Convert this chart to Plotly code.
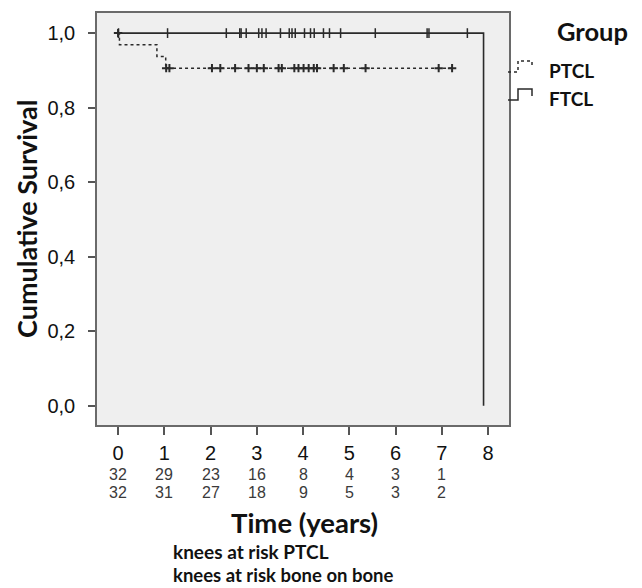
import plotly.graph_objects as go

# ---------------- data ----------------
# PTCL group: step curve (time in years, cumulative survival)
ptcl_step_times = [0.0, 0.03, 0.84, 1.03, 7.22]
ptcl_step_surv = [1.0, 0.969, 0.9375, 0.906, 0.906]
ptcl_censor_times = [0.0, 1.04, 1.11, 2.03, 2.21, 2.53, 2.82, 3.00, 3.15, 3.47, 3.54,
                     3.81, 3.90, 4.01, 4.12, 4.23, 4.30, 4.66, 4.88, 5.35, 6.93, 7.22]
ptcl_censor_surv = [1.0] + [0.906] * 21

# FTCL group
ftcl_step_times = [0.0, 7.9]
ftcl_step_surv = [1.0, 0.0]
ftcl_censor_times = [0.01, 1.07, 2.34, 2.63, 2.66, 2.77, 3.04, 3.11, 3.20, 3.51, 3.70,
                     3.76, 3.83, 4.03, 4.16, 4.24, 4.44, 4.57, 4.81, 5.56, 6.68, 6.72, 7.55]
ftcl_censor_surv = [1.0] * 23

x_ticks = [0, 1, 2, 3, 4, 5, 6, 7, 8]
y_ticks = [0.0, 0.2, 0.4, 0.6, 0.8, 1.0]
y_tick_labels = ["0,0", "0,2", "0,4", "0,6", "0,8", "1,0"]

risk_times = [0, 1, 2, 3, 4, 5, 6, 7]
risk_ptcl = [32, 29, 23, 16, 8, 4, 3, 1]
risk_bone = [32, 31, 27, 18, 9, 5, 3, 2]

group_names = ["PTCL", "FTCL"]

# ---------------- figure ----------------
LINE = "#2a2a2a"
TITLE_FONT = "Lato, 'Open Sans', sans-serif"
NUM_FONT = "'Liberation Sans', Arial, sans-serif"

W, H = 642, 588
L, R, T, B = 97, 133, 13, 163
pw, ph = W - L - R, H - T - B


def px(x):
    return (x - L) / pw


def py(y):
    return (H - B - y) / ph


fig = go.Figure()

fig.add_trace(go.Scatter(x=ptcl_step_times, y=ptcl_step_surv, mode="lines",
                         line=dict(color=LINE, width=1.5, dash="dot", shape="hv"),
                         showlegend=False, hoverinfo="skip"))
fig.add_trace(go.Scatter(x=ftcl_step_times, y=ftcl_step_surv, mode="lines",
                         line=dict(color=LINE, width=1.6, shape="hv"),
                         showlegend=False, hoverinfo="skip"))
fig.add_trace(go.Scatter(x=ptcl_censor_times, y=ptcl_censor_surv, mode="markers",
                         marker=dict(symbol="cross-thin", size=6, color=LINE,
                                     line=dict(color=LINE, width=2)),
                         showlegend=False, hoverinfo="skip"))
fig.add_trace(go.Scatter(x=ftcl_censor_times, y=ftcl_censor_surv, mode="markers",
                         marker=dict(symbol="line-ns", size=7, color=LINE,
                                     line=dict(color=LINE, width=1.5)),
                         showlegend=False, hoverinfo="skip"))

# at-risk numbers
for t, a, b in zip(risk_times, risk_ptcl, risk_bone):
    fig.add_annotation(x=t, y=py(474), xref="x", yref="paper", text=str(a), showarrow=False,
                       xanchor="center", yanchor="middle",
                       font=dict(family=NUM_FONT, size=16, color="#3a3a3a"))
    fig.add_annotation(x=t, y=py(492), xref="x", yref="paper", text=str(b), showarrow=False,
                       xanchor="center", yanchor="middle",
                       font=dict(family=NUM_FONT, size=16, color="#3a3a3a"))

annotations = [
    dict(x=px(304), y=py(522), text="<b>Time (years)</b>", size=27.5),
    dict(x=px(26), y=py(219), text="<b>Cumulative Survival</b>", size=27, angle=-90),
    dict(x=px(592), y=py(31), text="<b>Group</b>", size=25.5),
]
for a in annotations:
    fig.add_annotation(x=a["x"], y=a["y"], xref="paper", yref="paper", text=a["text"],
                       showarrow=False, textangle=a.get("angle", 0),
                       xanchor="center", yanchor="middle",
                       font=dict(family=TITLE_FONT, size=a["size"], color="#111"))

fig.add_annotation(x=px(171), y=py(551), xref="paper", yref="paper",
                   text="<b>knees at risk PTCL</b>", showarrow=False,
                   xanchor="left", yanchor="middle",
                   font=dict(family=TITLE_FONT, size=19, color="#111"))
fig.add_annotation(x=px(171), y=py(575), xref="paper", yref="paper",
                   text="<b>knees at risk bone on bone</b>", showarrow=False,
                   xanchor="left", yanchor="middle",
                   font=dict(family=TITLE_FONT, size=18.5, color="#111"))

for name, ypix in zip(group_names, [70, 98]):
    fig.add_annotation(x=px(547), y=py(ypix), xref="paper", yref="paper",
                       text=f"<b>{name}</b>", showarrow=False,
                       xanchor="left", yanchor="middle",
                       font=dict(family=TITLE_FONT, size=19, color="#111"))


# legend step glyphs
def step_path(y0):
    return (f"M {px(508)} {py(y0)} L {px(518)} {py(y0)} L {px(518)} {py(y0-11)} "
            f"L {px(532)} {py(y0-11)} L {px(532)} {py(y0-4)}")


fig.add_shape(type="path", xref="paper", yref="paper", path=step_path(72),
              line=dict(color=LINE, width=1.5, dash="dot"))
fig.add_shape(type="path", xref="paper", yref="paper", path=step_path(100),
              line=dict(color=LINE, width=1.5))

fig.update_layout(
    width=W, height=H,
    margin=dict(l=L, r=R, t=T, b=B, pad=0),
    paper_bgcolor="white", plot_bgcolor="#efefef",
    showlegend=False,
    xaxis=dict(range=[-0.455, 8.45], tickvals=x_ticks, ticktext=[str(v) for v in x_ticks],
               ticks="outside", ticklen=8, tickcolor="#555", tickwidth=1.5,
               showgrid=False, zeroline=False, showline=True, mirror=True,
               linecolor="#6a6a6a", linewidth=1.6, ticklabelstandoff=1,
               tickfont=dict(family=NUM_FONT, size=20, color="#111")),
    yaxis=dict(range=[-0.052, 1.054], tickvals=y_ticks, ticktext=y_tick_labels,
               ticks="outside", ticklen=7, tickcolor="#555", tickwidth=1.5,
               showgrid=False, zeroline=False, showline=True, mirror=True,
               linecolor="#6a6a6a", linewidth=1.6, ticklabelstandoff=9,
               tickfont=dict(family=NUM_FONT, size=20, color="#111")),
)

fig.write_html("out.html", config={"displayModeBar": False},
               post_script="document.body.style.margin='0px';")
